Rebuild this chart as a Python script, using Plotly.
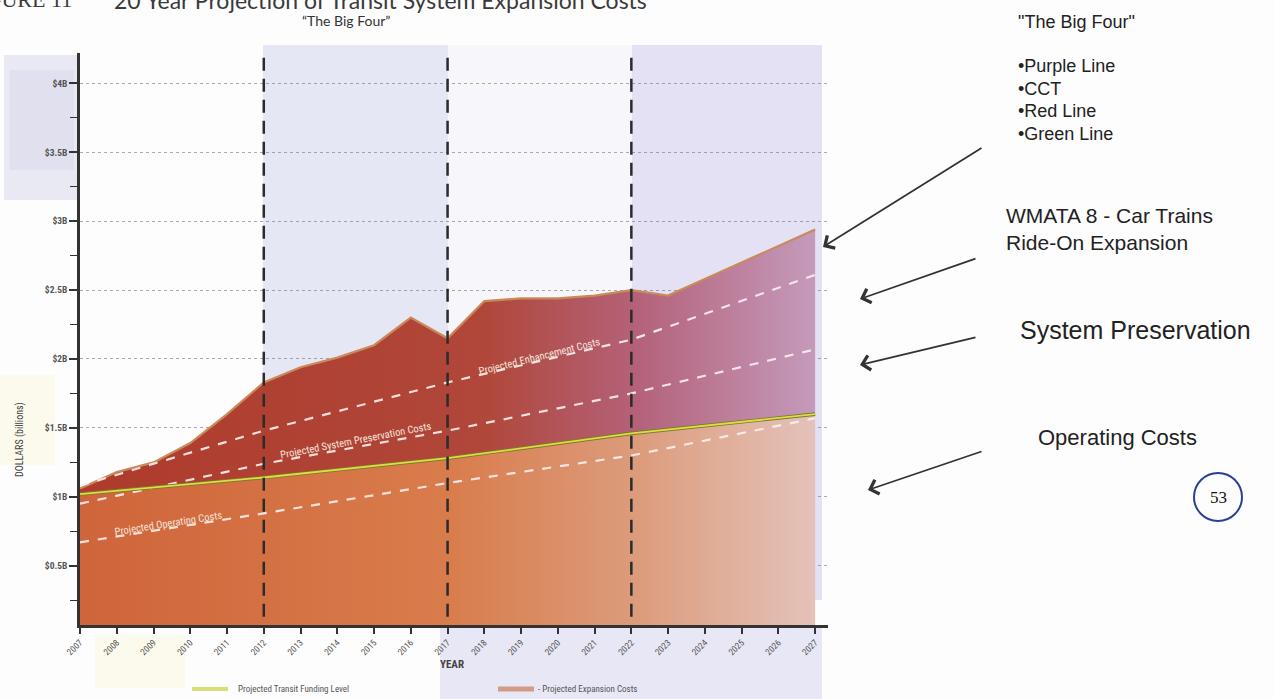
import plotly.graph_objects as go

# ---- canvas / plot-area geometry (pixels) ----
W, H = 1275, 699
L, R, T, B = 80, 828, 53, 625
X_RANGE = [2007, 2027.35]
Y_RANGE = [0.07, 4.22]

# ---- data (billions of dollars) ----
years = list(range(2007, 2028))
expansion_costs = [1.06, 1.18, 1.25, 1.39, 1.60, 1.83, 1.94, 2.01, 2.10, 2.30,
                   2.15, 2.42, 2.44, 2.44, 2.46, 2.50, 2.46, 2.58, 2.70, 2.82, 2.94]
milestone_years = [2007, 2012, 2017, 2022, 2027]
transit_funding = [1.02, 1.14, 1.28, 1.46, 1.60]
enhancement_proj = [1.08, 1.48, 1.83, 2.14, 2.61]
preservation_proj = [0.95, 1.24, 1.48, 1.75, 2.07]
operating_proj = [0.67, 0.88, 1.10, 1.30, 1.57]
phase_breaks = [2012, 2017, 2022]

y_tick_vals = [0.5, 1, 1.5, 2, 2.5, 3, 3.5, 4]
y_tick_text = ["$0.5B", "$1B", "$1.5B", "$2B", "$2.5B", "$3B", "$3.5B", "$4B"]
x_tick_text = [str(y) for y in years]
big_four = ["Purple Line", "CCT", "Red Line", "Green Line"]

NARROW = "Liberation Sans Narrow, Roboto Condensed, Open Sans, sans-serif"
ARIAL = "Liberation Sans, Arial, sans-serif"


def fx(p):
    return (p - L) / (R - L)


def fy(p):
    return (B - p) / (B - T)


fig = go.Figure()

# operating-cost band (up to the funding level)
fig.add_trace(go.Scatter(
    x=milestone_years, y=transit_funding, mode="lines",
    line=dict(width=0, color="rgba(0,0,0,0)"), fill="tozeroy",
    fillgradient=dict(type="horizontal", start=2007, stop=2027,
                      colorscale=[[0, "#cf653a"], [0.5, "#d97c4c"],
                                  [0.76, "#dc9c7c"], [1, "#e4c2ba"]]),
    hoverinfo="skip", showlegend=False))

# expansion band between funding level and total expansion costs
fig.add_trace(go.Scatter(
    x=years, y=expansion_costs, mode="lines",
    line=dict(color="#c98a5a", width=2.2), fill="tonexty",
    fillgradient=dict(type="horizontal", start=2007, stop=2027,
                      colorscale=[[0, "#ae3b2c"], [0.55, "#b0473a"],
                                  [0.76, "#b4627a"], [1, "#c59abb"]]),
    hoverinfo="skip", showlegend=False))

# projected cost lines
for series in (enhancement_proj, preservation_proj, operating_proj):
    fig.add_trace(go.Scatter(
        x=milestone_years, y=series, mode="lines",
        line=dict(color="rgba(248,238,238,0.92)", width=2.2, dash="9px,9px"),
        hoverinfo="skip", showlegend=False))

# projected transit funding level
fig.add_trace(go.Scatter(x=milestone_years, y=transit_funding, mode="lines",
                         line=dict(color="#7f7a2a", width=3.6),
                         hoverinfo="skip", showlegend=False))
fig.add_trace(go.Scatter(x=milestone_years, y=transit_funding, mode="lines",
                         line=dict(color="#dcdc46", width=1.8),
                         hoverinfo="skip", showlegend=False))

shapes = []


def prect(x0, y0, x1, y1, color):
    shapes.append(dict(type="rect", xref="paper", yref="paper",
                       x0=fx(x0), x1=fx(x1), y0=fy(y1), y1=fy(y0),
                       fillcolor=color, line=dict(width=0), layer="below"))


# soft background tints
prect(4, 55, 78, 200, "rgba(214,214,233,0.5)")
prect(10, 70, 74, 170, "rgba(205,205,228,0.3)")
prect(0, 375, 55, 465, "rgba(250,248,222,0.5)")
prect(95, 635, 185, 688, "rgba(250,248,222,0.55)")
prect(263, 45, 448, 600, "rgba(224,225,243,0.8)")
prect(448, 45, 632, 600, "rgba(242,242,249,0.5)")
prect(632, 45, 822, 600, "rgba(222,220,241,0.85)")
prect(440, 628, 822, 699, "rgba(226,225,242,0.8)")

# phase separators
for yr in phase_breaks:
    shapes.append(dict(type="line", xref="x", yref="y", x0=yr, x1=yr,
                       y0=0.13, y1=4.2,
                       line=dict(color="#2b2b2b", width=2.5, dash="13px,8px"),
                       layer="above"))

# legend swatches
shapes.append(dict(type="line", xref="paper", yref="paper",
                   x0=fx(192), x1=fx(228), y0=fy(689), y1=fy(689),
                   line=dict(color="#d8df78", width=4)))
shapes.append(dict(type="line", xref="paper", yref="paper",
                   x0=fx(498), x1=fx(534), y0=fy(689), y1=fy(689),
                   line=dict(color="#d39a86", width=5)))

# page number circle
shapes.append(dict(type="circle", xref="paper", yref="paper",
                   x0=fx(1194), x1=fx(1242), y0=fy(521), y1=fy(473),
                   line=dict(color="#2d3f95", width=2)))

ann = []


def ptext(text, x, y, size, family=ARIAL, anchor="left", color="#222", **kw):
    ann.append(dict(text=text, xref="paper", yref="paper", x=fx(x), y=fy(y),
                    xanchor=anchor, yanchor="middle", showarrow=False,
                    font=dict(size=size, family=family, color=color), **kw))


# headings
ptext("FIGURE 11", 74, 0, 22, family="Liberation Serif, serif", anchor="right", color="#3a3a3a")
ptext("20 Year Projection of Transit System Expansion Costs", 112, 0, 23,
      family="Lato, sans-serif", color="#3a3a3a")
ptext("\u201cThe Big Four\u201d", 346, 21, 14, family="Lato, sans-serif",
      anchor="center", color="#333")

# right-hand notes
ptext('"The Big Four"', 1016, 22, 18)
for i, name in enumerate(big_four):
    ptext("\u2022" + name, 1016, 66 + i * 22.7, 18)
ptext("WMATA 8 - Car Trains", 1004, 215, 21)
ptext("Ride-On Expansion", 1004, 242, 21)
ptext("System Preservation", 1018, 330, 25)
ptext("Operating Costs", 1036, 437, 22)
ptext("53", 1218, 497, 17, family="Liberation Serif, serif", anchor="center", color="#111")

# pointer arrows (tail -> head, pixels)
arrows = [((983, 147), (823, 247)), ((977, 258), (860, 299)),
          ((977, 337), (860, 365)), ((983, 451), (868, 490))]
for (tx, ty), (hx, hy) in arrows:
    ann.append(dict(text="", xref="paper", yref="paper", x=fx(hx), y=fy(hy),
                    ax=tx - hx, ay=ty - hy, showarrow=True, arrowhead=4,
                    arrowsize=1.6, arrowwidth=1.8, arrowcolor="#333"))

# labels riding on the projection lines
line_labels = [("Projected Operating Costs", 2009.4, 0.81, -9),
               ("Projected System Preservation Costs", 2014.5, 1.41, -11),
               ("Projected Enhancement Costs", 2019.5, 2.02, -14)]
for text, x, y, ang in line_labels:
    ann.append(dict(text=text, x=x, y=y, xref="x", yref="y", showarrow=False,
                    textangle=ang, font=dict(size=10.5, family=NARROW, color="#f5e2da")))

# axis titles
ptext("DOLLARS (billions)", 20, 440, 10, family=NARROW, anchor="center",
      color="#444", textangle=-90)
ptext("<b>YEAR</b>", 452, 664, 11, family=NARROW, anchor="center", color="#444")

# legend text
ptext("Projected Transit Funding Level", 236, 689, 9, family=NARROW, color="#555")
ptext("- Projected Expansion Costs", 536, 689, 9, family=NARROW, color="#555")

fig.update_layout(
    width=W, height=H,
    margin=dict(l=L, r=W - R, t=T, b=H - B),
    paper_bgcolor="#fdfdfd", plot_bgcolor="rgba(0,0,0,0)",
    shapes=shapes, annotations=ann, showlegend=False,
    xaxis=dict(range=X_RANGE, tickvals=years, ticktext=x_tick_text, tickangle=-45,
               ticks="outside", ticklen=6, tickwidth=1.5, tickcolor="#333",
               showline=True, linecolor="#333", linewidth=2.5,
               showgrid=False, zeroline=False,
               tickfont=dict(size=9, family=NARROW, color="#555")),
    yaxis=dict(range=Y_RANGE, tickvals=y_tick_vals, ticktext=y_tick_text,
               ticks="outside", ticklen=8, tickwidth=1.5, tickcolor="#333",
               showline=True, linecolor="#333", linewidth=2.5,
               showgrid=True, gridcolor="rgba(100,100,130,0.55)", griddash="dot",
               gridwidth=1, zeroline=False,
               minor=dict(dtick=0.25, tick0=0, ticks="outside", ticklen=7,
                          tickwidth=1.2, tickcolor="#333", showgrid=False),
               tickfont=dict(size=9.5, family=NARROW, color="#555", weight="bold")),
)

fig.write_html("out.html")
